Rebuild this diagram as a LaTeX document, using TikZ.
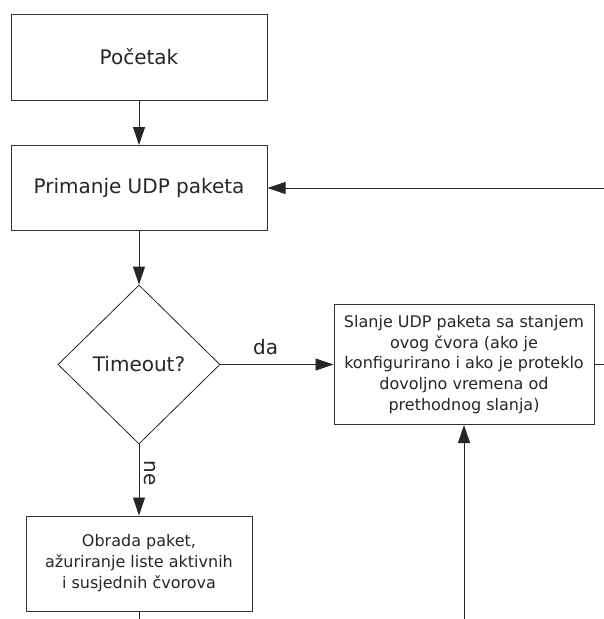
\documentclass[tikz,border=0pt]{standalone}
\usepackage{fontspec}
\setmainfont{DejaVu Sans}
\usetikzlibrary{shapes.geometric,arrows.meta}
\begin{document}
\begin{tikzpicture}[x=1pt,y=-1pt,
  every node/.style={inner sep=0pt, text=black!85},
  bigbox/.style={draw=black!80, line width=1pt, rectangle, font=\fontsize{20}{24}\selectfont},
  smallbox/.style={draw=black!80, line width=1pt, rectangle, align=center, font=\fontsize{16}{20.8}\selectfont},
  decision/.style={draw=black!85, line width=0.8pt, diamond, font=\fontsize{20}{24}\selectfont},
  conn/.style={draw=black!85, line width=0.9pt},
  arr/.style={conn, -{Triangle[length=18pt,width=12pt]}},
  lbl/.style={font=\fontsize{20}{24}\selectfont}
]
\useasboundingbox (0,0) rectangle (604,619);
\node[bigbox, minimum width=256pt, minimum height=86pt] (start) at (139,57) {Početak};
\node[bigbox, minimum width=256pt, minimum height=85pt] (recv) at (139,188) {Primanje UDP paketa};
\node[decision, minimum width=162pt, minimum height=159pt] (dec) at (139,364.5) {Timeout?};
\node[smallbox, minimum width=260pt, minimum height=120pt] (send) at (464,364.5) {Slanje UDP paketa sa stanjem\\ovog čvora (ako je\\konfigurirano i ako je proteklo\\dovoljno vremena od\\prethodnog slanja)};
\node[smallbox, minimum width=226pt, minimum height=95pt, font=\fontsize{16}{21}\selectfont] (proc) at (139,563.5) {Obrada paket,\\ažuriranje liste aktivnih\\i susjednih čvorova};
\coordinate (procend) at (139,619);
\coordinate (botin) at (464,619);
\coordinate (sendout) at (604,364.5);
\coordinate (loopin) at (604,188);
\draw[arr] (start.south) -- (recv.north);
\draw[arr] (recv.south) -- (dec.north);
\draw[arr] (dec.east) -- (send.west) node[lbl, pos=0.4, above=9pt] (da) {da};
\draw[arr] (dec.south) -- (proc.north) node[lbl, pos=0.4, right=5pt, rotate=-90, anchor=south] (ne) {ne};
\draw[conn] (proc.south) -- (procend);
\draw[arr] (botin) -- (send.south);
\draw[conn] (send.east) -- (sendout);
\draw[arr] (loopin) -- (recv.east);
\end{tikzpicture}
\end{document}
